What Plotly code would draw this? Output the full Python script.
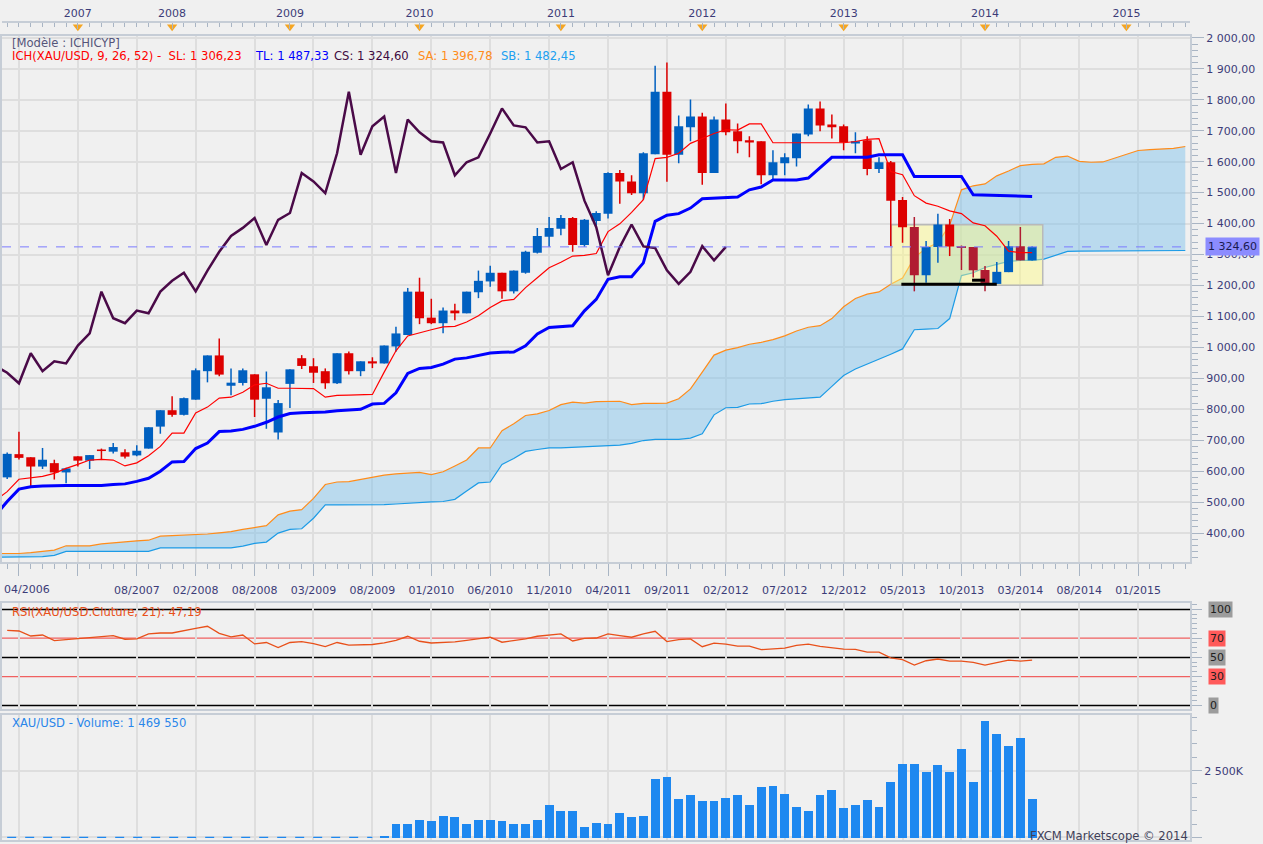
import plotly.graph_objects as go

# XAU/USD Ichimoku (9, 26, 52).
# x axis is a bar index (one step per candle), like Marketscope draws it.

opens = [580, 655, 645, 615, 626, 596, 648, 634, 670, 663,
         661, 651, 673, 744, 797, 782, 831, 923, 974, 876,
         885, 913, 834, 725, 882, 965, 939, 923, 884, 981,
         923, 955, 948, 1003, 1040, 1180, 1096, 1078, 1119, 1110,
         1178, 1213, 1241, 1181, 1241, 1306, 1357, 1383, 1418, 1331,
         1408, 1432, 1563, 1536, 1498, 1624, 1826, 1622, 1711, 1746,
         1563, 1736, 1698, 1669, 1666, 1556, 1595, 1611, 1688, 1772,
         1720, 1714, 1659, 1669, 1576, 1598, 1476, 1389, 1233, 1324,
         1397, 1327, 1324, 1250, 1205, 1243, 1327, 1281]
highs = [660, 727, 645, 675, 637, 611, 648, 652, 673, 691,
         671, 684, 742, 797, 842, 838, 932, 974, 1029, 932,
         932, 913, 922, 830, 929, 975, 965, 932, 981, 987,
         955, 968, 1006, 1067, 1192, 1225, 1157, 1129, 1141, 1180,
         1248, 1264, 1241, 1248, 1312, 1386, 1421, 1428, 1421, 1415,
         1440, 1566, 1573, 1556, 1630, 1910, 1920, 1749, 1801, 1758,
         1746, 1788, 1723, 1682, 1666, 1637, 1627, 1691, 1785, 1794,
         1752, 1720, 1695, 1682, 1614, 1602, 1486, 1421, 1344, 1432,
         1415, 1329, 1324, 1263, 1276, 1344, 1389, 1327]
lows = [575, 638, 552, 607, 573, 561, 615, 607, 636, 657,
        641, 648, 673, 721, 776, 780, 831, 887, 907, 845,
        877, 775, 737, 702, 804, 930, 885, 866, 882, 912,
        907, 933, 948, 986, 1040, 1075, 1075, 1046, 1088, 1110,
        1159, 1196, 1157, 1174, 1238, 1303, 1325, 1362, 1309, 1325,
        1393, 1416, 1464, 1492, 1477, 1624, 1535, 1595, 1666, 1525,
        1563, 1685, 1627, 1614, 1527, 1540, 1556, 1584, 1682, 1698,
        1675, 1637, 1627, 1556, 1563, 1327, 1338, 1181, 1209, 1273,
        1295, 1250, 1226, 1181, 1205, 1243, 1281, 1281]
closes = [656, 643, 615, 637, 596, 609, 634, 652, 665, 678,
          647, 666, 742, 797, 782, 836, 926, 974, 912, 886,
          926, 831, 871, 820, 929, 940, 918, 884, 981, 923,
          955, 948, 1006, 1045, 1180, 1094, 1078, 1119, 1110, 1180,
          1215, 1241, 1181, 1248, 1309, 1360, 1386, 1418, 1331, 1412,
          1434, 1563, 1536, 1498, 1627, 1826, 1622, 1714, 1746, 1563,
          1736, 1695, 1666, 1662, 1556, 1598, 1614, 1691, 1772, 1717,
          1711, 1662, 1666, 1576, 1598, 1474, 1388, 1233, 1324, 1397,
          1326, 1321, 1249, 1205, 1244, 1327, 1281, 1324.60]

# tenkan (SL) and kijun (TL), first value is one bar left of the screen
tenkan = [505,
          534, 574, 579, 583, 593, 609, 622, 636, 638, 636,
          617, 627, 650, 680, 723, 723, 788, 807, 836, 839,
          855, 879, 884, 868, 868, 868, 867, 839, 845, 846,
          846, 848, 920, 989, 1037, 1048, 1057, 1066, 1068, 1082,
          1102, 1129, 1150, 1155, 1193, 1225, 1257, 1275, 1295, 1297,
          1303, 1374, 1399, 1436, 1477, 1610, 1614, 1627, 1659, 1675,
          1691, 1703, 1702, 1722, 1722, 1661, 1661, 1661, 1661, 1661,
          1661, 1661, 1665, 1672, 1674, 1568, 1558, 1490, 1466, 1456,
          1441, 1432, 1402, 1393, 1359, 1311, 1306.23, 1306.23]
kijun = [457,
         502, 542, 550, 552, 554, 554, 554, 554, 554, 557,
         559, 567, 577, 600, 630, 631, 673, 691, 728, 730,
         735, 745, 758, 775, 786, 789, 790, 791, 795, 797,
         800, 817, 819, 853, 916, 932, 935, 946, 962, 966,
         973, 982, 984, 985, 1005, 1043, 1064, 1067, 1070, 1118,
         1155, 1220, 1228, 1228, 1273, 1407, 1427, 1432, 1450, 1480,
         1482, 1482, 1486, 1509, 1518, 1541, 1541, 1541, 1547, 1579,
         1614, 1614, 1614, 1614, 1622, 1622, 1622, 1552, 1552, 1552,
         1552, 1552, 1493, 1492, 1490, 1489, 1487.33, 1487.33]

# senkou spans as drawn (already shifted 26 bars ahead), from one bar left of the screen
senkou_a = [334,
            334, 334, 337, 341, 345, 359, 359, 359, 365, 369,
            371, 375, 377, 390, 392, 393, 395, 397, 401, 405,
            412, 419, 424, 459, 471, 476, 512, 557, 565, 566,
            573, 582, 587, 591, 594, 596, 589, 598, 617, 636,
            675, 675, 731, 753, 780, 785, 796, 815, 823, 820,
            825, 826, 826, 815, 819, 819, 820, 834, 866, 920,
            975, 991, 999, 1010, 1016, 1025, 1037, 1053, 1065, 1070,
            1093, 1131, 1158, 1172, 1179, 1204, 1224, 1290, 1320, 1338,
            1395, 1509, 1522, 1528, 1554, 1570, 1587, 1591, 1593, 1614,
            1618, 1601, 1598, 1599, 1611, 1624, 1636, 1639, 1640, 1643,
            1649]
senkou_b = [322,
            322, 322, 323, 324, 328, 341, 341, 341, 341, 341,
            341, 341, 341, 352, 352, 352, 352, 352, 352, 352,
            358, 367, 371, 400, 412, 414, 448, 491, 491, 491,
            491, 491, 492, 494, 497, 498, 501, 502, 509, 536,
            562, 565, 622, 641, 664, 670, 675, 675, 677, 677,
            679, 681, 684, 690, 699, 703, 703, 703, 707, 721,
            782, 805, 806, 817, 818, 826, 831, 834, 837, 839,
            874, 909, 930, 946, 960, 978, 995, 1057, 1059, 1061,
            1093, 1232, 1241, 1258, 1268, 1278, 1281, 1281, 1285, 1297,
            1310, 1311, 1311, 1311, 1311, 1311, 1311, 1311, 1311, 1311,
            1313]
sa_now = 1396.78
sb_now = 1482.45
ich_shift = 26

rsi = [78.2, 77.5, 72.3, 73.3, 67.4, 68.5, 69.9, 71.0, 72.0, 72.6,
       68.9, 69.2, 74.4, 75.4, 75.4, 78.2, 80.3, 82.4, 75.1, 71.3,
       73.3, 64.0, 65.5, 60.2, 65.5, 66.5, 64.4, 61.3, 65.5, 62.7,
       63.1, 63.4, 65.1, 67.8, 72.0, 66.8, 65.0, 65.4, 66.1, 67.8,
       69.2, 71.0, 65.8, 67.8, 69.2, 72.0, 73.3, 74.4, 67.1, 69.9,
       70.2, 74.4, 72.6, 71.0, 74.4, 77.2, 66.5, 68.5, 69.2, 61.1,
       64.9, 63.8, 61.8, 61.8, 58.0, 58.6, 59.7, 62.5, 63.8, 61.4,
       60.3, 58.6, 58.3, 55.5, 55.5, 49.6, 47.6, 42.0, 46.5, 48.3,
       46.2, 46.2, 44.8, 42.0, 44.5, 47.2, 46.2, 47.19]
rsi_levels = [100, 70, 50, 30, 0]

# volume in thousands
volume_k = [0, 0, 0, 0, 0, 0, 0, 0, 0, 0,
            0, 0, 0, 0, 0, 0, 0, 0, 0, 0,
            0, 0, 0, 0, 0, 0, 0, 0, 0, 0,
            0, 0, 80, 500, 530, 650, 610, 800, 760, 530,
            650, 650, 610, 500, 500, 650, 1240, 1020, 1020, 420,
            570, 500, 910, 760, 800, 2210, 2290, 1470, 1620, 1390,
            1390, 1500, 1620, 1240, 1910, 1950, 1650, 1170, 1020, 1620,
            1800, 1100, 1240, 1430, 1170, 2100, 2750, 2770, 2480, 2740,
            2480, 3330, 2100, 4380, 3890, 3430, 3750, 1469.55]

# drawn objects: range box and two support lines
box_x = [75.05, 87.9]
box_y = [1201, 1396]
support = [(75.9, 84.0, 1203.6), (81.9, 83.0, 1217)]

grid_idx = [1, 6, 11, 16, 21, 26, 31, 36, 41, 46, 51, 56, 61, 66, 71, 76, 81, 86, 91, 96]
date_labels = ['', '', '08/2007', '02/2008', '08/2008', '03/2009', '08/2009', '01/2010',
               '06/2010', '11/2010', '04/2011', '09/2011', '02/2012', '07/2012', '12/2012',
               '05/2013', '10/2013', '03/2014', '08/2014', '01/2015']
year_pos = [6, 14, 24, 35, 47, 59, 71, 83, 95]
year_labels = ['2007', '2008', '2009', '2010', '2011', '2012', '2013', '2014', '2015']
price_ticks = [400, 500, 600, 700, 800, 900, 1000, 1100, 1200, 1300, 1400,
               1500, 1600, 1700, 1800, 1900, 2000]


def fr(v, dec=2):
    return f"{v:,.{dec}f}".replace(",", " ").replace(".", ",")


n = len(closes)
idx = list(range(n))
line_idx = list(range(-1, n))
cloud_idx = list(range(-1, len(senkou_a) - 1))
chikou_idx = [i - ich_shift for i in idx if i >= ich_shift - 1]
chikou = [closes[i] for i in idx if i >= ich_shift - 1]
zero_idx = [i for i in idx if volume_k[i] == 0]
current = closes[-1]

XR = [-0.44, 100.4]
H = 844.0


def py(px):
    return 1 - px / H


BORDER = '#c6cdd6'
GRID = '#dedede'
TICK = '#a9b5c4'
NAVY = '#3c3c78'
UP = '#0060c0'
DOWN = '#dd0000'
DOWN_BOX = '#b01c32'


def in_box(i):
    return (box_x[0] < i < box_x[1] and box_y[0] <= min(opens[i], closes[i])
            and max(opens[i], closes[i]) <= box_y[1])


def segments(pick, y0, y1):
    xs, ys = [], []
    for i in idx:
        if pick(i):
            xs += [i, i, None]
            ys += [y0[i], y1[i], None]
    return xs, ys


fig = go.Figure()

# cloud
fig.add_trace(go.Scatter(x=cloud_idx, y=senkou_b, mode='lines',
                         line=dict(color='#1c9be6', width=1.2), hoverinfo='skip'))
fig.add_trace(go.Scatter(x=cloud_idx, y=senkou_a, mode='lines', fill='tonexty',
                         fillcolor='rgba(120,190,235,0.45)',
                         line=dict(color='#ff8c1a', width=1.2), hoverinfo='skip'))

# range box
fig.add_trace(go.Scatter(x=[box_x[0], box_x[1], box_x[1], box_x[0], box_x[0]],
                         y=[box_y[0], box_y[0], box_y[1], box_y[1], box_y[0]],
                         mode='lines', fill='toself', fillcolor='rgba(255,250,130,0.45)',
                         line=dict(color='#b9b9b9', width=1.5), hoverinfo='skip'))

# candles: wick and body per colour
groups = [
    (lambda i: closes[i] >= opens[i], UP),
    (lambda i: closes[i] < opens[i] and not in_box(i), DOWN),
    (lambda i: closes[i] < opens[i] and in_box(i), DOWN_BOX),
]
for pick, col in groups:
    wx, wy = segments(pick, lows, highs)
    fig.add_trace(go.Scatter(x=wx, y=wy, mode='lines', line=dict(color=col, width=1.5),
                             hoverinfo='skip'))
    bx, by = segments(pick, opens, closes)
    fig.add_trace(go.Scatter(x=bx, y=by, mode='lines', line=dict(color=col, width=9),
                             hoverinfo='skip'))

fig.add_trace(go.Scatter(x=line_idx, y=tenkan, mode='lines',
                         line=dict(color='#ff0000', width=1.2), hoverinfo='skip'))
fig.add_trace(go.Scatter(x=line_idx, y=kijun, mode='lines',
                         line=dict(color='#0000ff', width=3), hoverinfo='skip'))
fig.add_trace(go.Scatter(x=chikou_idx, y=chikou, mode='lines',
                         line=dict(color='#4a0a48', width=2.5), hoverinfo='skip'))

for x0, x1, lvl in support:
    fig.add_trace(go.Scatter(x=[x0, x1], y=[lvl, lvl], mode='lines',
                             line=dict(color='#000000', width=3), hoverinfo='skip'))

# RSI
fig.add_trace(go.Scatter(x=idx, y=rsi, mode='lines', xaxis='x2', yaxis='y2',
                         line=dict(color='#e8501a', width=1.3), hoverinfo='skip'))

# volume
fig.add_trace(go.Bar(x=idx, y=volume_k, width=0.75, marker=dict(color='#1e88f0', line=dict(width=0)),
                     xaxis='x3', yaxis='y3', hoverinfo='skip'))
fig.add_trace(go.Scatter(x=zero_idx, y=[volume_k[i] for i in zero_idx], mode='lines',
                         xaxis='x3', yaxis='y3', line=dict(color='#1e88f0', width=1.2, dash='dash'),
                         hoverinfo='skip'))

# year markers on top strip
fig.add_trace(go.Scatter(x=year_pos, y=[0.7] * len(year_pos), mode='markers',
                         xaxis='x4', yaxis='y4', cliponaxis=False,
                         marker=dict(symbol='triangle-down', size=9, color='#f5a623'),
                         hoverinfo='skip'))

shapes = [dict(type='line', xref='x domain', x0=0, x1=1, yref='y', y0=current, y1=current,
               line=dict(color='#7b7bff', width=1, dash='dash'), layer='above')]
for lvl in rsi_levels:
    black = lvl in (0, 50, 100)
    shapes.append(dict(type='line', xref='x2 domain', x0=0, x1=1, yref='y2', y0=lvl, y1=lvl,
                       line=dict(color='#000000' if black else '#f06060', width=1.5 if black else 1.2),
                       layer='below'))

ann = []


def note(text, x, y, color, size=11.6, xanchor='left', yref='paper', **kw):
    ann.append(dict(text=text, x=x, y=y, xref='paper', yref=yref, xanchor=xanchor,
                    yanchor='middle', showarrow=False, font=dict(color=color, size=size), **kw))


W = 1190.0
note('[Modèle : ICHICYP]', 8 / W, py(39.5), '#55557a')
note('ICH(XAU/USD, 9, 26, 52) -&nbsp; SL: ' + fr(tenkan[-1]), 8 / W, py(52.5), '#ff0000')
note('TL: ' + fr(kijun[-1]), 251 / W, py(52.5), '#0000ff')
note('CS: ' + fr(current), 331 / W, py(52.5), '#400a40')
note('SA: ' + fr(sa_now), 415 / W, py(52.5), '#ff8c1a')
note('SB: ' + fr(sb_now), 498 / W, py(52.5), '#20a0f0')
note('RSI(XAU/USD.Cluture, 21): ' + fr(rsi[-1]), 8 / W, py(611), '#e8501a')
note('XAU/USD - Volume: ' + fr(volume_k[-1] * 1000, 0), 8 / W, py(722), '#2a86ea')
note('FXCM Marketscope © 2014', 1.0, py(836), '#404058', xanchor='right')
note('04/2006', 0, py(588), NAVY, size=11)
note(fr(current), 1205 / W, current, '#1a1a50', size=11, yref='y', bgcolor='#8c8cff', borderpad=2)
for lvl in rsi_levels:
    grey = lvl in (0, 50, 100)
    note(str(lvl), 1208 / W, lvl, '#202020', size=11, yref='y2',
         bgcolor='#9c9c9c' if grey else '#ff5a5a', borderpad=1)

axis_common = dict(showline=True, linecolor=BORDER, linewidth=2, mirror=True, zeroline=False)

fig.update_layout(
    width=1263, height=844,
    margin=dict(l=0, r=73, t=0, b=0),
    paper_bgcolor='#f0f0f0', plot_bgcolor='#f0f0f0',
    font=dict(family='DejaVu Sans', size=11, color=NAVY),
    showlegend=False, bargap=0,
    shapes=shapes, annotations=ann,
    xaxis=dict(domain=[0, 1], range=XR, anchor='y', tickmode='array', tickvals=grid_idx,
               ticktext=date_labels, ticks='outside', ticklen=12, tickcolor=TICK,
               ticklabelstandoff=4,
               minor=dict(tick0=0, dtick=1, ticks='outside', ticklen=5, tickcolor=TICK, showgrid=False),
               showgrid=True, gridcolor=GRID, gridwidth=2, **axis_common),
    yaxis=dict(domain=[py(561), py(32)], range=[305.5, 2006.4], anchor='x', side='right',
               tickmode='array', tickvals=price_ticks, ticktext=[fr(v) for v in price_ticks],
               ticks='outside', ticklen=12, tickcolor=TICK,
               minor=dict(dtick=20, ticks='outside', ticklen=6, tickcolor=TICK, showgrid=False),
               showgrid=True, gridcolor=GRID, gridwidth=2, **axis_common),
    xaxis2=dict(domain=[0, 1], range=XR, anchor='y2', matches='x', tickmode='array',
                tickvals=grid_idx, showticklabels=False, ticks='',
                showgrid=True, gridcolor=GRID, gridwidth=2, **axis_common),
    yaxis2=dict(domain=[py(708), py(602)], range=[-3.4, 106.5], anchor='x2', side='right',
                tickmode='array', tickvals=rsi_levels, showticklabels=False,
                ticks='outside', ticklen=10, tickcolor=TICK,
                minor=dict(dtick=5, ticks='outside', ticklen=5, tickcolor=TICK, showgrid=False),
                showgrid=False, **axis_common),
    xaxis3=dict(domain=[0, 1], range=XR, anchor='y3', matches='x', tickmode='array',
                tickvals=grid_idx, showticklabels=False, ticks='',
                showgrid=True, gridcolor=GRID, gridwidth=2, **axis_common),
    yaxis3=dict(domain=[py(840), py(714)], range=[-100, 4600], anchor='x3', side='right',
                tickmode='array', tickvals=[0, 2500], ticktext=['0', '2 500K'],
                ticks='outside', ticklen=10, tickcolor=TICK,
                minor=dict(dtick=500, ticks='outside', ticklen=5, tickcolor=TICK, showgrid=False),
                showgrid=True, gridcolor=GRID, gridwidth=2, **axis_common),
    xaxis4=dict(domain=[0, 1], range=XR, anchor='y4', matches='x', side='top',
                tickmode='array', tickvals=year_pos, ticktext=year_labels,
                ticks='inside', ticklen=6, tickcolor=TICK,
                minor=dict(tick0=0, dtick=1, ticks='inside', ticklen=4, tickcolor=TICK),
                showgrid=False, showline=True, linecolor=BORDER, linewidth=2, zeroline=False),
    yaxis4=dict(domain=[py(32), py(19)], range=[0, 1], anchor='x4', visible=False),
)

# the page body has a default 8px margin; drop it so the chart fills the window
fig.write_html("out.html", config={'displayModeBar': False},
               post_script="document.body.style.margin='0';")
